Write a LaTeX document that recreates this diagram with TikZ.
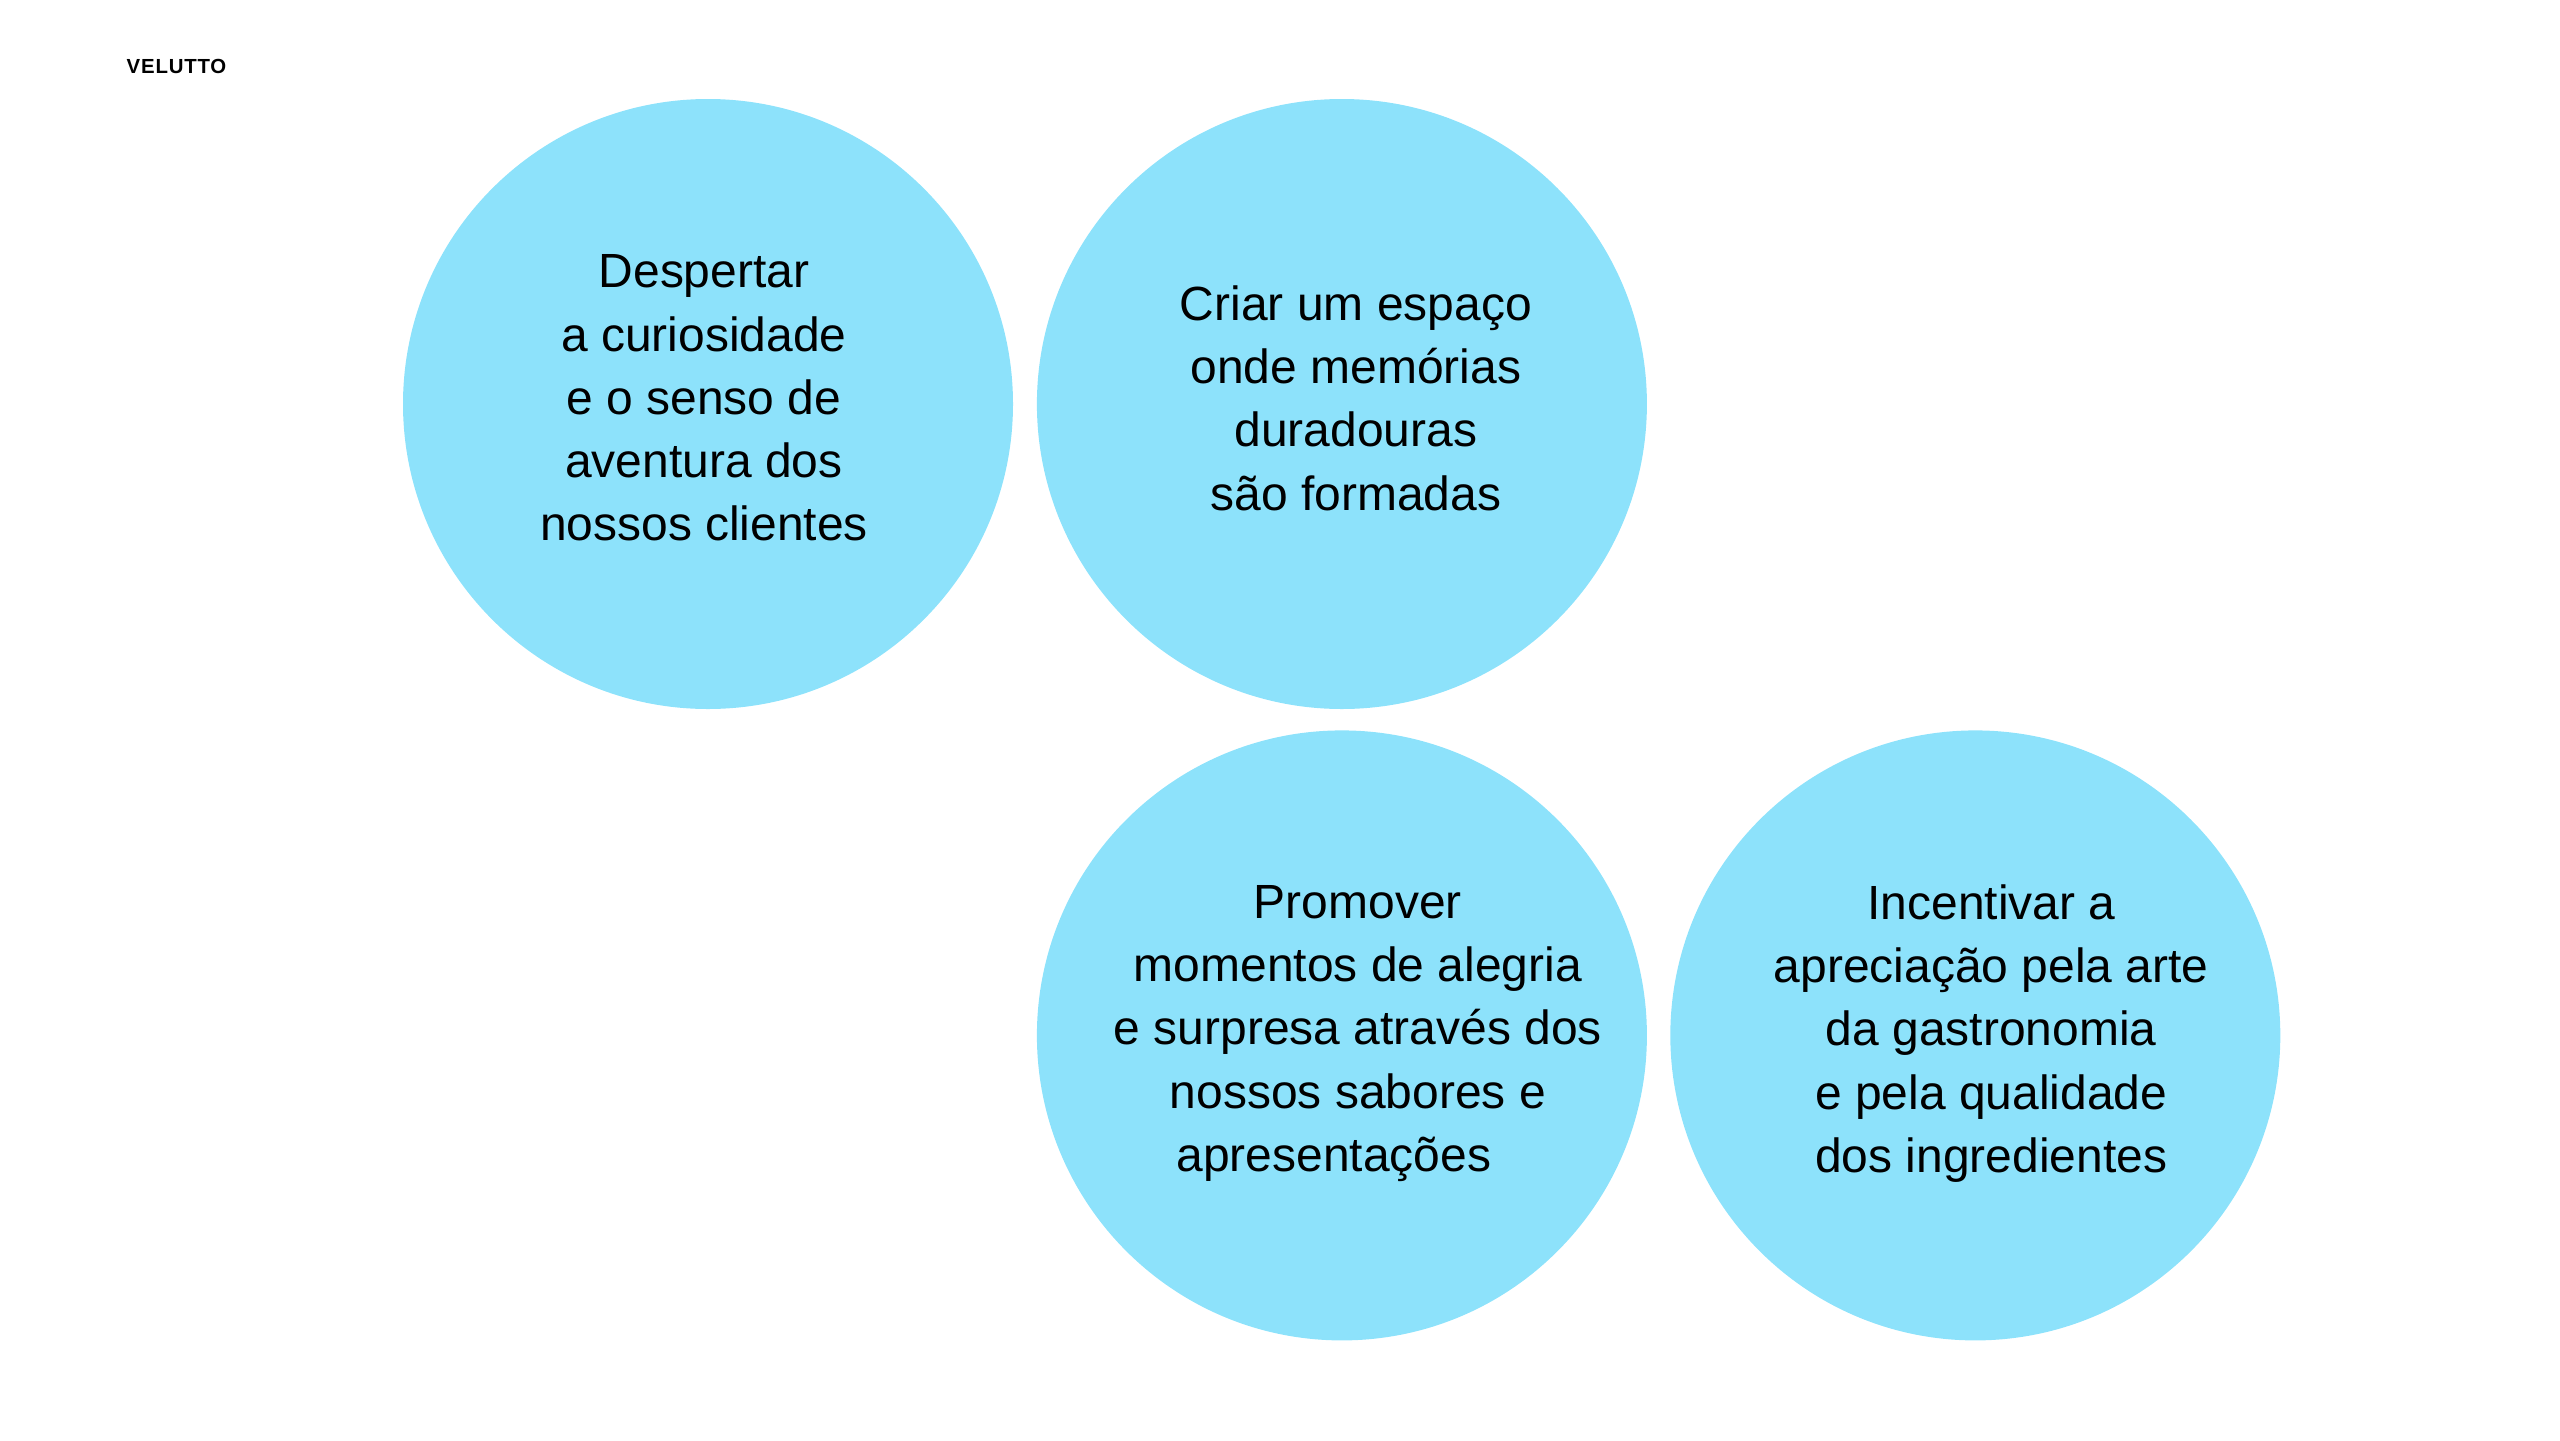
\documentclass[tikz,border=0pt]{standalone}
\usepackage{fontspec}
\setmainfont{Liberation Sans}
\usetikzlibrary{positioning}
\definecolor{bolhaazul}{RGB}{141,226,251}

\begin{document}
\begin{tikzpicture}[
    node distance=0.25cm,
    bolha/.style={circle, fill=bolhaazul, minimum size=6.1cm, inner sep=0pt},
    texto/.style={align=center, inner sep=0pt, font=\fontsize{13.65}{18}\selectfont},
    marca/.style={anchor=base west, inner sep=0pt, font=\fontsize{5.8}{7}\selectfont\bfseries\addfontfeatures{LetterSpace=4}}
]

% page frame
\useasboundingbox (0,0) rectangle (25.6,-14.4);

% Brand
\node[marca] (marca) at (1.26,-0.73) {VELUTTO};

% Circles
\node[bolha] (c1) at (7.08,-4.04) {};
\node[bolha, right=0.225cm of c1] (c2) {};
\node[bolha, below=0.2cm of c2] (c3) {};
\node[bolha, right=0.22cm of c3] (c4) {};

% Texts
\node[texto, xshift=-0.04cm, yshift=0.06cm] (t1) at (c1) {
    Despertar\\
    a curiosidade\\
    e o senso de\\
    aventura dos\\
    nossos clientes
};

\node[texto, xshift=0.14cm, yshift=0.06cm] (t2) at (c2) {
    Criar um espaço\\
    onde memórias\\
    duradouras\\
    são formadas
};

\node[texto, xshift=0.16cm, yshift=0.02cm] (t3) at (c3) {
    Promover\\
    momentos de alegria\\
    e surpresa através dos\\
    nossos sabores e\hspace*{0.9em}\\
    apresentações\hspace*{1em}
};

\node[texto, xshift=0.16cm, yshift=0.02cm] (t4) at (c4) {
    Incentivar a\\
    apreciação pela arte\\
    da gastronomia\\
    e pela qualidade\\
    dos ingredientes
};

\end{tikzpicture}
\end{document}
